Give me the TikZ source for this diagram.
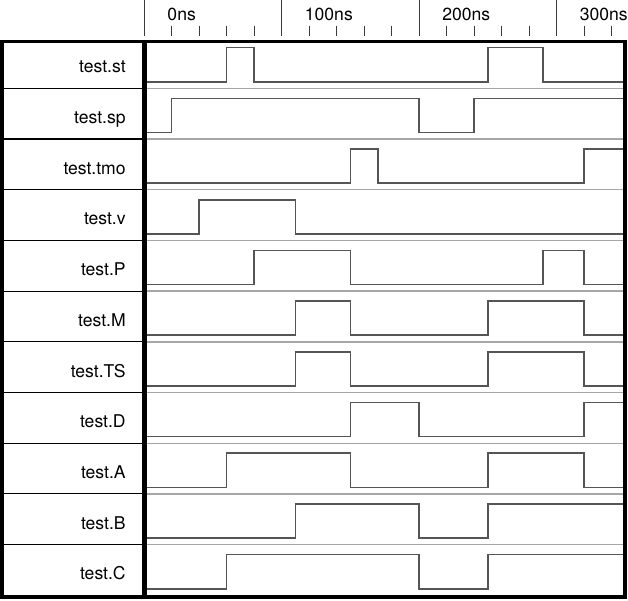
\documentclass[tikz,border=0pt]{standalone}
\usepackage{fontspec}
\setmainfont{TeX Gyre Heros}
\definecolor{wavec}{HTML}{555555}
\definecolor{lanec}{HTML}{A6A6A6}
\definecolor{tickc}{HTML}{3A3A3A}
\tikzset{
  wave line/.style={draw=wavec, line width=0.9pt, line join=miter},
  lane sep/.style={draw=lanec, line width=0.8pt},
  name sep/.style={draw=black, line width=0.6pt},
  sig name/.style={anchor=base east, inner sep=0pt, font=\fontsize{10}{12}\selectfont},
  time label/.style={anchor=base west, inner sep=0pt, font=\fontsize{10}{12}\selectfont},
  tick major/.style={draw=tickc, line width=0.6pt},
  tick minor/.style={draw=tickc, line width=0.6pt},
  outer frame/.style={draw=black, line width=1.95pt},
}

\begin{document}
\begin{tikzpicture}[x=0.02cm, y=-0.02cm]
  \fill[white] (0,0) rectangle (628,600);
  \useasboundingbox (0,0) rectangle (628,600);

  % time axis, x in ns
  \begin{scope}[xshift=3.434cm, x=0.0275cm]
    \foreach \t in {0,20,...,320}
      \draw[tick minor] (\t,25.5) -- (\t,35.5);
    \foreach \t in {-20,80,180,280}
      \draw[tick major] (\t,0) -- (\t,35.5);
    \foreach \t in {0,100,200,300}
      \node[time label] (time-\t) at ({\t-3.3},20) {\t ns};
  \end{scope}

  % one lane per signal: name/pulses (start/end in ns)
  \foreach \n/\pulses [count=\k from 0] in {st/{40/60,230/270}, sp/{0/180,220/330},
      tmo/{130/150,300/330}, v/{20/90}, P/{60/130,270/300}, M/{90/130,230/300},
      TS/{90/130,230/300}, D/{130/180,300/330}, A/{40/130,230/300},
      B/{90/180,230/330}, C/{40/180,230/330}} {
    \pgfmathsetmacro\rowtop{37.6+50.7*\k}
    \pgfmathsetmacro\rowbot{\rowtop+50.7}
    \node[sig name] (name-\n) at (126,\rowtop+35.2) {test.\n};
    \draw[name sep] (2,\rowbot) -- (144,\rowbot);
    \draw[lane sep] (144,\rowbot) -- (625,\rowbot);
    \begin{scope}[xshift=3.434cm, x=0.0275cm]
      \draw[wave line] (-20,\rowtop+44.1)
        \foreach \a/\b in \pulses {
          -- (\a,\rowtop+44.1) -- (\a,\rowtop+10) -- (\b,\rowtop+10) -- (\b,\rowtop+44.1)
        } -- (330,\rowtop+44.1);
    \end{scope}
  }

  % frame and divider
  \draw[outer frame] (2,41.7) rectangle (625,597);
  \draw[black, line width=2.8pt] (144.3,41.7) -- (144.3,597);
\end{tikzpicture}
\end{document}
